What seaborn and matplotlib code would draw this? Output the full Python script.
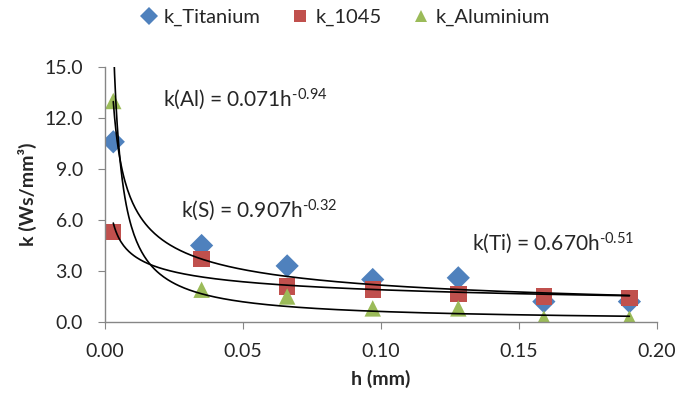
import numpy as np
import pandas as pd
import matplotlib
matplotlib.use('Agg')
import matplotlib.pyplot as plt
import seaborn as sns

# 数据 (h in mm)
h = [0.003, 0.035, 0.066, 0.097, 0.128, 0.159, 0.190]
k_titanium = [10.6, 4.5, 3.3, 2.5, 2.6, 1.2, 1.2]
k_1045 = [5.3, 3.7, 2.1, 1.9, 1.65, 1.5, 1.4]
k_aluminium = [13.0, 1.9, 1.5, 0.8, 0.8, 0.2, 0.2]

series_names = ['k_Titanium', 'k_1045', 'k_Aluminium']
colors = ['#4F81BD', '#C0504D', '#9BBB59']
markers = ['D', 's', '^']

# 幂函数趋势线 k = a * h^b
fit_a = [0.670, 0.907, 0.071]
fit_b = [-0.51, -0.32, -0.94]

sns.set_style('white')
plt.rcParams['font.family'] = ['Lato', 'DejaVu Sans']
plt.rcParams['mathtext.fontset'] = 'custom'
plt.rcParams['mathtext.rm'] = 'Lato'
plt.rcParams['mathtext.it'] = 'Lato:italic'

df = pd.DataFrame({
    'h': h * 3,
    'k': k_titanium + k_1045 + k_aluminium,
    'series': [n for n in series_names for _ in h],
})

fig = plt.figure(figsize=(6.94, 3.95), dpi=100)
ax = fig.add_axes([0.1513, 0.1848, 0.7954, 0.6456])

sns.scatterplot(data=df, x='h', y='k', hue='series', style='series',
                palette=dict(zip(series_names, colors)),
                markers=dict(zip(series_names, markers)),
                s=140, linewidth=0, ax=ax, zorder=2)

hh = np.linspace(h[0], h[-1], 400)
for a, b in zip(fit_a, fit_b):
    sns.lineplot(x=hh, y=a * hh ** b, color='black', linewidth=1.2, ax=ax, zorder=3)

ax.text(0.0210, 13.1, r'k(Al) = 0.071h$^{\mathrm{‐0.94}}$', fontsize=15, va='center')
ax.text(0.0275, 6.6, r'k(S) = 0.907h$^{\mathrm{‐0.32}}$', fontsize=15, va='center')
ax.text(0.1330, 4.65, r'k(Ti) = 0.670h$^{\mathrm{‐0.51}}$', fontsize=15, va='center')

ax.set_xlim(0, 0.20)
ax.set_ylim(0, 15)
ax.set_xticks(np.arange(0, 0.201, 0.05))
ax.set_yticks(np.arange(0, 15.1, 3))
ax.set_xticklabels(['%.2f' % v for v in np.arange(0, 0.201, 0.05)])
ax.set_yticklabels(['%.1f' % v for v in np.arange(0, 15.1, 3)])
ax.tick_params(axis='both', labelsize=14, length=5, direction='out', color='#868686',
               bottom=True, left=True)
ax.tick_params(axis='x', pad=10)
ax.tick_params(axis='y', pad=11)
for side in ['top', 'right']:
    ax.spines[side].set_visible(False)
for side in ['left', 'bottom']:
    ax.spines[side].set_color('#868686')
    ax.spines[side].set_linewidth(1)

ax.set_xlabel('h (mm)', fontsize=14, fontweight='bold', labelpad=7)
ax.set_ylabel('k (Ws/mm³)', fontsize=14, fontweight='bold', labelpad=5)

handles, labels = ax.get_legend_handles_labels()
for hd in handles[:3]:
    try:
        hd.set_markersize(9)
    except AttributeError:
        hd.set_sizes([80])
leg = ax.legend(handles[:3], labels[:3], loc='center', ncol=3, frameon=False, fontsize=14.5,
                handlelength=0.9, handletextpad=0.3, columnspacing=1.5,
                bbox_to_anchor=(0.497, 0.955), bbox_transform=fig.transFigure)

plt.savefig('out.png', dpi=100)
